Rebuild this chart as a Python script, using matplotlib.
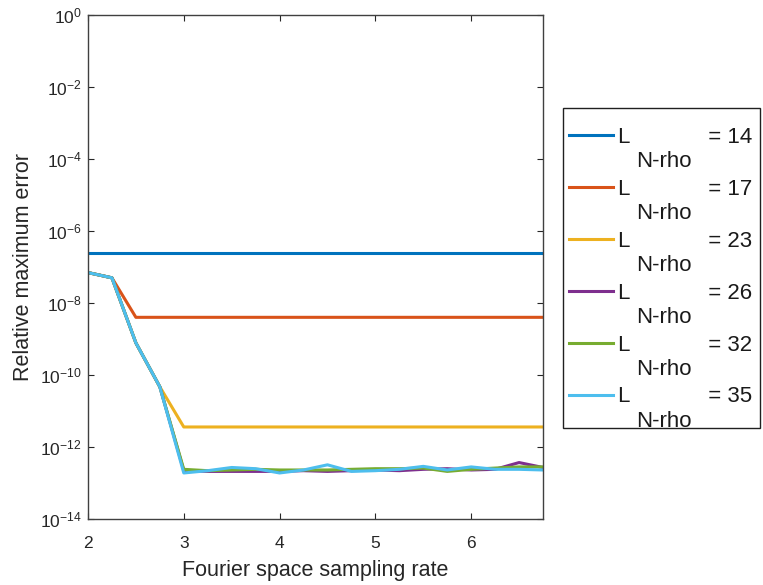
import numpy as np
import matplotlib.pyplot as plt
from matplotlib.ticker import LogLocator, NullLocator
from matplotlib.patches import Rectangle

plt.rcParams['font.family'] = ['Liberation Sans', 'DejaVu Sans']

# sampling rates
rate = np.arange(2.0, 6.76, 0.25)

# orders and the error curves
orders = [14, 17, 23, 26, 32, 35]
head = [7e-8, 5e-8, 7.8e-10, 4.7e-11]
err_14 = [2.5e-7] * 20
err_17 = [7e-8, 5e-8] + [4e-9] * 18
err_23 = head + [3.6e-12] * 16
err_26 = head + [2.2e-13, 2.1e-13, 2.1e-13, 2.1e-13, 2.1e-13, 2.2e-13, 2.1e-13, 2.2e-13,
                 2.3e-13, 2.2e-13, 2.4e-13, 2.5e-13, 2.3e-13, 2.4e-13, 3.7e-13, 2.7e-13]
err_32 = head + [2.4e-13, 2.2e-13, 2.3e-13, 2.4e-13, 2.3e-13, 2.3e-13, 2.3e-13, 2.4e-13,
                 2.5e-13, 2.5e-13, 2.6e-13, 2.1e-13, 2.4e-13, 2.6e-13, 2.8e-13, 2.8e-13]
err_35 = head + [1.9e-13, 2.2e-13, 2.7e-13, 2.5e-13, 1.9e-13, 2.3e-13, 3.2e-13, 2.1e-13,
                 2.2e-13, 2.4e-13, 2.9e-13, 2.3e-13, 2.8e-13, 2.4e-13, 2.4e-13, 2.3e-13]
errors = [err_14, err_17, err_23, err_26, err_32, err_35]
colors = ['#0072BD', '#D95319', '#EDB120', '#7E2F8E', '#77AC30', '#4DBEEE']

sub = 'N-rho'
gap = '\u2003\u2003\u2003\u2002'   # room left for the subscript
fs_leg = 16

fig = plt.figure(figsize=(7.63, 5.85), dpi=100)
ax = fig.add_axes([0.1153, 0.1128, 0.5964, 0.8616])

for L, err, c in zip(orders, errors, colors):
    ax.semilogy(rate, err, color=c, lw=2.2, label='L%s= %d' % (gap, L))

ax.set_xlim(2, 6.75)
ax.set_ylim(1e-14, 1e0)
ax.set_xticks([2, 3, 4, 5, 6])
ax.yaxis.set_major_locator(LogLocator(base=100.0))
ax.yaxis.set_minor_locator(NullLocator())
ax.tick_params(direction='in', top=True, right=True, length=4, width=0.8,
               labelsize=12.5, colors='#262626')
ax.tick_params(axis='x', pad=12)
ax.tick_params(axis='y', pad=4.5)
for sp in ax.spines.values():
    sp.set_color('#404040')
    sp.set_linewidth(1.0)

ax.set_xlabel('Fourier space sampling rate', fontsize=15.5, color='#262626', labelpad=7)
ax.set_ylabel('Relative maximum error', fontsize=15.5, color='#262626', labelpad=4)

# legend outside on the right, subscripts added under each label
leg = ax.legend(loc='upper left', bbox_to_anchor=(569 / 763, 1 - 127 / 585),
                bbox_transform=fig.transFigure, fontsize=fs_leg, frameon=False,
                handlelength=2.0, handletextpad=0.2, labelspacing=1.39, borderpad=0,
                borderaxespad=0)
fig.canvas.draw()
for t in leg.get_texts():
    t.set_color('#1a1a1a')
    bb = t.get_window_extent()
    ax.annotate(sub, xy=(bb.x0, bb.y0), xycoords='figure pixels', xytext=(13, -14),
                textcoords='offset points', ha='left', va='baseline', fontsize=fs_leg,
                color='#1a1a1a', annotation_clip=False, zorder=6)
fig.add_artist(Rectangle((563 / 763, 1 - 428 / 585), 197 / 763, 320 / 585,
                         transform=fig.transFigure, fill=False, ec='#202020', lw=1.0))

fig.savefig('out.png', dpi=100)
